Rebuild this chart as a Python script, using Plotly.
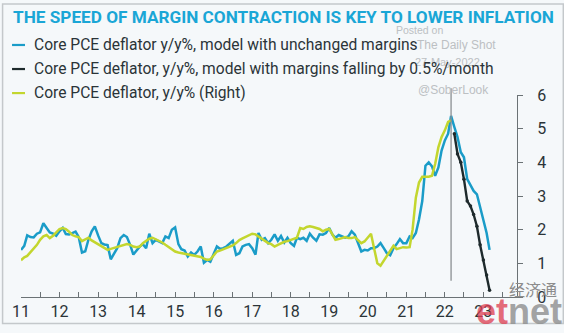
import pandas as pd
import plotly.graph_objects as go

# ---------------- data (monthly, y/y %) ----------------
blue_start = "2011-01-01"   # model with unchanged margins
blue_vals = [
    1.40, 1.52, 1.83, 1.78, 1.77, 1.88, 1.92, 2.19, 2.05, 1.92, 1.88, 1.82,   # 2011
    1.95, 2.05, 1.87, 1.86, 1.90, 1.94, 1.78, 1.32, 1.36, 1.70, 1.95, 2.10,   # 2012
    1.83, 1.60, 1.56, 1.54, 1.12, 1.28, 1.45, 1.75, 1.84, 1.78, 1.55, 1.26,   # 2013
    1.38, 1.50, 1.57, 1.45, 1.88, 1.60, 1.70, 1.65, 1.60, 1.80, 1.75, 2.00,   # 2014
    2.07, 1.57, 1.42, 1.38, 1.20, 1.32, 1.25, 1.35, 1.50, 1.02, 1.10, 1.05,   # 2015
    1.25, 1.50, 1.43, 1.45, 1.50, 1.58, 1.67, 1.25, 1.30, 1.50, 1.55, 1.57,   # 2016
    1.45, 1.26, 1.90, 1.70, 1.75, 1.60, 1.70, 1.86, 1.67, 1.81, 1.62, 1.76,   # 2017
    1.60, 1.52, 1.76, 1.72, 1.76, 1.67, 1.88, 1.76, 1.67, 1.86, 1.85, 1.90,   # 2018
    2.05, 1.85, 1.76, 1.84, 1.80, 1.76, 1.80, 1.95, 1.85, 1.60, 1.35, 1.40,   # 2019
    1.38, 1.45, 1.45, 1.50, 1.60, 1.45, 1.30, 1.24, 1.45, 1.57, 1.72, 1.60,   # 2020
    1.60, 1.80, 1.75, 1.90, 2.30, 2.85, 3.90, 4.00, 3.88, 3.60, 3.85, 4.35,   # 2021
    4.65, 4.85, 5.38, 5.05, 4.75, 4.30, 4.15, 3.50, 3.30, 3.15, 3.05, 2.70,   # 2022
    2.30, 1.90, 1.40,                                                         # 2023
]

green_start = "2011-01-01"  # actual core PCE deflator (right axis)
green_vals = [
    1.09, 1.18, 1.22, 1.33, 1.45, 1.55, 1.70, 1.80, 1.84, 1.75, 1.82, 1.92,   # 2011
    2.02, 2.05, 2.02, 1.94, 1.84, 1.80, 1.78, 1.66, 1.72, 1.76, 1.68, 1.62,   # 2012
    1.57, 1.52, 1.45, 1.40, 1.43, 1.46, 1.50, 1.52, 1.55, 1.57, 1.55, 1.50,   # 2013
    1.48, 1.50, 1.60, 1.68, 1.73, 1.76, 1.72, 1.66, 1.62, 1.55, 1.48, 1.42,   # 2014
    1.35, 1.32, 1.30, 1.30, 1.27, 1.24, 1.22, 1.20, 1.19, 1.14, 1.10, 1.12,   # 2015
    1.25, 1.35, 1.38, 1.42, 1.45, 1.48, 1.53, 1.60, 1.69, 1.74, 1.79, 1.84,   # 2016
    1.88, 1.86, 1.80, 1.74, 1.68, 1.60, 1.57, 1.50, 1.55, 1.60, 1.64, 1.66,   # 2017
    1.69, 1.72, 1.76, 2.05, 2.02, 2.08, 2.10, 2.08, 2.05, 2.02, 1.95, 2.00,   # 2018
    2.02, 1.85, 1.70, 1.72, 1.75, 1.78, 1.75, 1.75, 1.78, 1.68, 1.60, 1.65,   # 2019
    1.75, 1.88, 1.45, 1.00, 0.93, 1.08, 1.20, 1.35, 1.52, 1.42, 1.45, 1.48,   # 2020
    1.47, 1.48, 2.00, 2.95, 3.40, 3.57, 3.57, 3.57, 3.60, 3.95, 4.45, 4.75,   # 2021
    4.95, 5.20, 5.25,                                                         # 2022
]

black_start = "2022-04-01"  # model with margins falling by 0.5%/month
black_vals = [4.85, 4.25, 4.00, 3.50, 2.85, 2.70, 2.45, 2.10, 1.55, 1.10, 0.65, 0.20]

forecast_line_date = "2022-03-01"
x_range = ["2011-01-01", "2023-11-16"]
y_range = [0, 6]

title_text = "THE SPEED OF MARGIN CONTRACTION IS KEY TO LOWER INFLATION"
legend_names = [
    "Core PCE deflator y/y%, model with unchanged margins",
    "Core PCE deflator, y/y%, model with margins falling by 0.5%/month",
    "Core PCE deflator, y/y% (Right)",
]

# ---------------- styles ----------------
C_BLUE = "#1a9cc8"
C_GREEN = "#c3d62e"
C_BLACK = "#1e2a2c"
C_TITLE = "#1aa6d6"
C_TEXT = "#2b3438"
C_WM = "#bcc0c3"
BG = "#f5f8fa"

W, H = 564, 333
ML, MR, MT, MB = 19, 47, 95, 28
PW, PH = W - ML - MR, H - MT - MB


def px(xp):
    return (xp - ML) / PW


def py(yp):
    return (H - MB - yp) / PH


def dates(start, n):
    return pd.date_range(start, periods=n, freq="MS")


fig = go.Figure()
fig.add_trace(go.Scatter(x=dates(blue_start, len(blue_vals)), y=blue_vals, mode="lines",
                         line=dict(color=C_BLUE, width=2.5), name=legend_names[0]))
fig.add_trace(go.Scatter(x=dates(green_start, len(green_vals)), y=green_vals, mode="lines",
                         line=dict(color=C_GREEN, width=2.5), name=legend_names[2]))
fig.add_trace(go.Scatter(x=dates(black_start, len(black_vals)), y=black_vals, mode="lines+markers",
                         line=dict(color=C_BLACK, width=2.4), marker=dict(size=3.5, color=C_BLACK),
                         name=legend_names[1]))

shapes = []
# forecast vertical line
shapes.append(dict(type="line", xref="x", yref="paper", x0=forecast_line_date, x1=forecast_line_date,
                   y0=py(288), y1=py(88), line=dict(color="#8a8f92", width=1.3)))
# border
shapes.append(dict(type="rect", xref="paper", yref="paper", x0=px(0.5), x1=px(W - 0.5),
                   y0=py(H - 0.5), y1=py(0.5), line=dict(color="#c4c8cb", width=1.5)))

annotations = []
annotations.append(dict(text="<b>" + title_text + "</b>", xref="paper", yref="paper",
                        x=px(9), y=py(14), xanchor="left", yanchor="middle", showarrow=False,
                        font=dict(family="Roboto", size=17.2, color=C_TITLE)))

# watermark (drawn beneath the legend text)
for t, xx, yy, sz in [("Posted on", 419, 27, 10.5), ("The Daily Shot", 456, 43, 12),
                      ("27-May-2022", 447, 61, 11), ("@SoberLook", 453, 90, 12)]:
    annotations.append(dict(text=t, xref="paper", yref="paper", x=px(xx), y=py(yy),
                            xanchor="center", yanchor="middle", showarrow=False,
                            font=dict(family="Liberation Sans", size=sz, color=C_WM)))

leg_y = [43, 68, 93]
leg_col = [C_BLUE, C_BLACK, C_GREEN]
for name, yy, col in zip(legend_names, leg_y, leg_col):
    shapes.append(dict(type="line", xref="paper", yref="paper", x0=px(10), x1=px(23),
                       y0=py(yy), y1=py(yy), line=dict(color=col, width=2.2)))
    annotations.append(dict(text=name, xref="paper", yref="paper", x=px(30), y=py(yy),
                            xanchor="left", yanchor="middle", showarrow=False,
                            font=dict(family="Roboto", size=15.6, color=C_TEXT)))

annotations.append(dict(text="经济通", xref="paper", yref="paper", x=px(533), y=py(297),
                        xanchor="center", yanchor="middle", showarrow=False,
                        font=dict(family="Noto Sans CJK SC", size=16, color="#8c8c8c")))
annotations.append(dict(text="<b><span style='color:rgba(222,60,80,0.75)'>et</span>"
                             "<span style='color:rgba(140,140,140,0.8)'>net</span></b>",
                        xref="paper", yref="paper", x=px(519), y=py(320),
                        xanchor="center", yanchor="middle", showarrow=False,
                        font=dict(family="Liberation Sans", size=36)))

fig.update_layout(
    width=W, height=H,
    margin=dict(l=ML, r=MR, t=MT, b=MB),
    paper_bgcolor=BG, plot_bgcolor=BG,
    showlegend=False,
    shapes=shapes, annotations=annotations,
    xaxis=dict(type="date", range=x_range, showgrid=False, zeroline=False,
               showline=True, linecolor="#6b7275", linewidth=1.3,
               tickformat="%y", dtick="M12", tick0="2011-01-01",
               ticks="inside", ticklen=5, tickcolor="#6b7275", tickwidth=1.3,
               minor=dict(dtick="M6", tick0="2011-01-01", ticks="inside", ticklen=5,
                          tickcolor="#6b7275", tickwidth=1.3),
               tickfont=dict(family="Roboto", size=16, color=C_TEXT)),
    yaxis=dict(range=y_range, side="right", showgrid=False, zeroline=False,
               showline=True, linecolor="#6b7275", linewidth=1.3,
               tickvals=[0, 1, 2, 3, 4, 5, 6], ticks="outside", ticklen=5,
               tickcolor="#6b7275", ticklabelstandoff=11,
               tickfont=dict(family="Roboto", size=16, color=C_TEXT)),
)

fig.write_html("out.html")
